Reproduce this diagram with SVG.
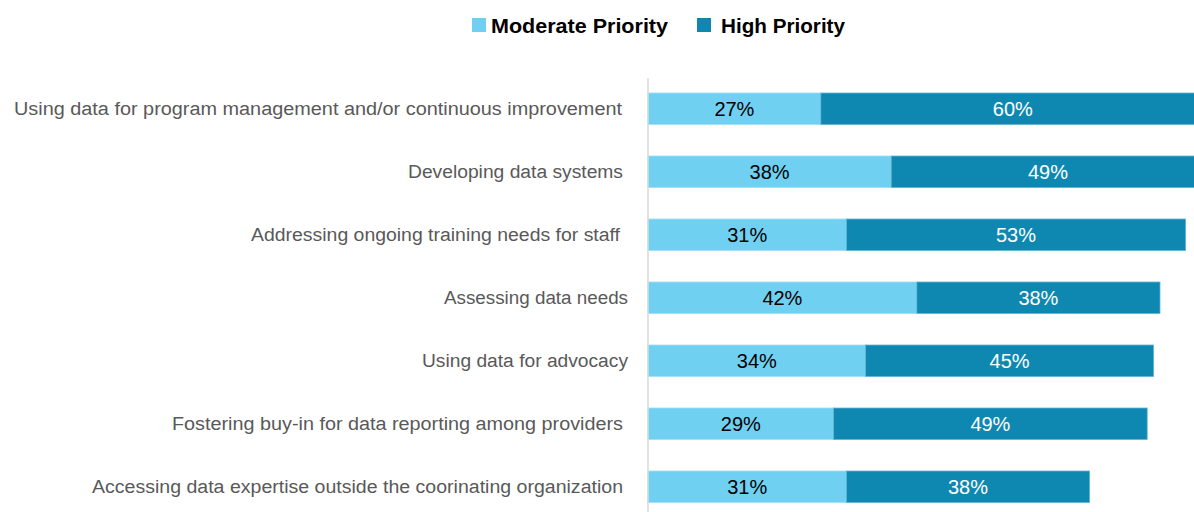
<svg xmlns="http://www.w3.org/2000/svg" width="1194" height="512" viewBox="0 0 1194 512">
<style>
.lab{font-family:"Liberation Sans",Arial,sans-serif;font-size:18px;fill:#595959;lengthAdjust:spacingAndGlyphs}
.pct{font-family:"Liberation Sans",Arial,sans-serif;font-size:20px;text-anchor:middle}
.lt{fill:#6FD0F2;stroke:#9FDFF5;stroke-width:0.8}
.dk{fill:#0F88B1;stroke:#5FB5D2;stroke-width:0.8}
.leg{font-family:"Liberation Sans",Arial,sans-serif;font-size:20px;font-weight:bold;fill:#000}
</style>
<rect width="1194" height="512" fill="#fff"/>
<g id="legend">
<rect x="472" y="18" width="14" height="14" fill="#6FD0F2"/>
<text class="leg" x="491" y="33" textLength="177" lengthAdjust="spacingAndGlyphs">Moderate Priority</text>
<rect x="697" y="18" width="14" height="14" fill="#0F88B1"/>
<text class="leg" x="721" y="33" textLength="124" lengthAdjust="spacingAndGlyphs">High Priority</text>
</g>
<g id="labels">
<text class="lab" x="14" y="115" textLength="608" lengthAdjust="spacingAndGlyphs">Using data for program management and/or continuous improvement</text>
<text class="lab" x="408" y="178" textLength="215" lengthAdjust="spacingAndGlyphs">Developing data systems</text>
<text class="lab" x="251" y="241" textLength="369" lengthAdjust="spacingAndGlyphs">Addressing ongoing training needs for staff</text>
<text class="lab" x="444" y="304" textLength="184" lengthAdjust="spacingAndGlyphs">Assessing data needs</text>
<text class="lab" x="422" y="367" textLength="206" lengthAdjust="spacingAndGlyphs">Using data for advocacy</text>
<text class="lab" x="172" y="430" textLength="451" lengthAdjust="spacingAndGlyphs">Fostering buy-in for data reporting among providers</text>
<text class="lab" x="92" y="493" textLength="531" lengthAdjust="spacingAndGlyphs">Accessing data expertise outside the coorinating organization</text>
</g>
<g id="bars">
<rect class="lt" x="648" y="93" width="172.8" height="31.5"/>
<rect class="dk" x="820.8" y="93" width="384" height="31.5"/>
<rect class="lt" x="648" y="156" width="243.2" height="31.5"/>
<rect class="dk" x="891.2" y="156" width="313.6" height="31.5"/>
<rect class="lt" x="648" y="219" width="198.4" height="31.5"/>
<rect class="dk" x="846.4" y="219" width="339.2" height="31.5"/>
<rect class="lt" x="648" y="282" width="268.8" height="31.5"/>
<rect class="dk" x="916.8" y="282" width="243.2" height="31.5"/>
<rect class="lt" x="648" y="345" width="217.6" height="31.5"/>
<rect class="dk" x="865.6" y="345" width="288" height="31.5"/>
<rect class="lt" x="648" y="408" width="185.6" height="31.5"/>
<rect class="dk" x="833.6" y="408" width="313.6" height="31.5"/>
<rect class="lt" x="648" y="471" width="198.4" height="31.5"/>
<rect class="dk" x="846.4" y="471" width="243.2" height="31.5"/>
</g>
<g id="axis">
<line x1="648" y1="78" x2="648" y2="512" stroke="#D9D9D9" stroke-width="1.5"/>
</g>
<g id="values">
<text class="pct" x="734.4" y="116" fill="#000">27%</text>
<text class="pct" x="1012.8" y="116" fill="#fff">60%</text>
<text class="pct" x="769.6" y="179" fill="#000">38%</text>
<text class="pct" x="1048" y="179" fill="#fff">49%</text>
<text class="pct" x="747.2" y="242" fill="#000">31%</text>
<text class="pct" x="1016" y="242" fill="#fff">53%</text>
<text class="pct" x="782.4" y="305" fill="#000">42%</text>
<text class="pct" x="1038.4" y="305" fill="#fff">38%</text>
<text class="pct" x="756.8" y="368" fill="#000">34%</text>
<text class="pct" x="1009.6" y="368" fill="#fff">45%</text>
<text class="pct" x="740.8" y="431" fill="#000">29%</text>
<text class="pct" x="990.4" y="431" fill="#fff">49%</text>
<text class="pct" x="747.2" y="494" fill="#000">31%</text>
<text class="pct" x="968" y="494" fill="#fff">38%</text>
</g>
</svg>
